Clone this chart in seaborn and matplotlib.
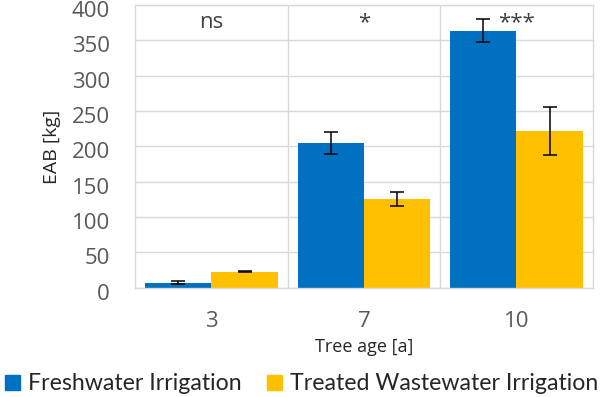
import pandas as pd
import numpy as np
import matplotlib
matplotlib.use("Agg")
import matplotlib.pyplot as plt
import matplotlib.transforms as mtransforms
import seaborn as sns
from matplotlib.patches import Patch

# data
ages = ["3", "7", "10"]
fresh_mean = [7, 205, 364]
fresh_err = [2, 16, 16]
waste_mean = [23, 126, 222]
waste_err = [1, 10, 34]
signif = ["ns", "*", "***"]
groups = ["Freshwater Irrigation", "Treated Wastewater Irrigation"]
colors = ["#0070C0", "#FFC000"]

df = pd.DataFrame({
    "age": ages * 2,
    "EAB": fresh_mean + waste_mean,
    "err": fresh_err + waste_err,
    "group": [groups[0]] * 3 + [groups[1]] * 3,
})

sns.set_style("white")
plt.rcParams["font.family"] = ["Open Sans", "DejaVu Sans"]

fig = plt.figure(figsize=(6.03, 3.97), dpi=100)
ax = fig.add_axes([0.224, 0.275, 0.759, 0.712])

sns.barplot(data=df, x="age", y="EAB", hue="group", palette=colors,
            order=ages, hue_order=groups, width=0.87, errorbar=None,
            saturation=1, linewidth=0, legend=False, ax=ax)

# error bars at bar centres
for cont, g in zip(ax.containers, groups):
    sub = df[df["group"] == g].set_index("age").loc[ages]
    xs = [b.get_x() + b.get_width() / 2 for b in cont]
    ax.errorbar(xs, sub["EAB"], yerr=sub["err"], fmt="none", ecolor="black",
                elinewidth=1.1, capsize=5, capthick=1.1, zorder=5)

for i, s in enumerate(signif):
    ax.text(i, 367, s, ha="center", va="baseline", fontsize=16, color="#404040")

ax.set_xlim(-0.5, 2.5)
ax.set_ylim(0, 400)
ax.set_yticks(range(0, 401, 50))
ax.yaxis.grid(True, color="#d9d9d9", lw=1)
ax.set_axisbelow(True)
for xv in [0.5, 1.5]:
    ax.axvline(xv, color="#d9d9d9", lw=1, zorder=0)
for sp in ax.spines.values():
    sp.set_color("#d9d9d9")
    sp.set_linewidth(1)

ax.tick_params(axis="both", length=0, labelsize=16, labelcolor="#595959")
ax.tick_params(axis="x", pad=17)
ax.tick_params(axis="y", pad=18)
shift = mtransforms.ScaledTranslation(0, -4 / 100, fig.dpi_scale_trans)
for lbl in ax.get_yticklabels():
    lbl.set_transform(lbl.get_transform() + shift)

ax.set_xlabel("Tree age [a]", fontsize=13, color="#262626", labelpad=4)
ax.set_ylabel("")
fig.text(52 / 603, 1 - 146.5 / 397, "EAB [kg]", rotation=90, ha="center",
         va="center", fontsize=14, color="#262626")

handles = [Patch(color=c, label=g) for c, g in zip(colors, groups)]
fig.legend(handles=handles, loc="center", bbox_to_anchor=(0.5, 0.033),
           ncol=2, frameon=False, handlelength=0.65, handleheight=0.65,
           handletextpad=0.35, columnspacing=1.1, borderpad=0,
           prop={"family": "Lato", "size": 16.7})

fig.savefig("out.png", dpi=100)
